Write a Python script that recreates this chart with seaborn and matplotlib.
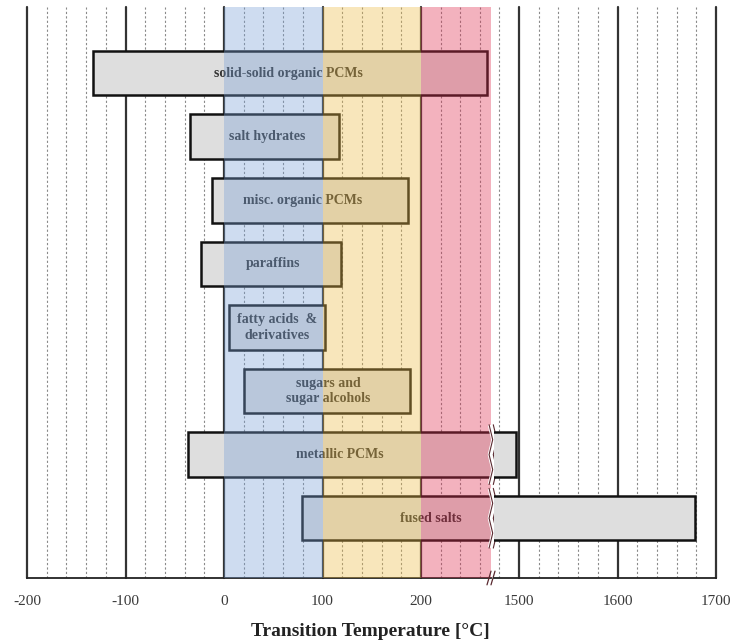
import numpy as np
import matplotlib
matplotlib.use("Agg")
import matplotlib.pyplot as plt
import matplotlib.transforms as mtransforms
import seaborn as sns

# PCM classes and their transition temperature ranges (deg C)
materials = ["solid-solid organic PCMs", "salt hydrates", "misc. organic PCMs",
             "paraffins", "fatty acids  &\nderivatives", "sugars and\nsugar alcohols",
             "metallic PCMs", "fused salts"]
t_min = [-133, -35, -12, -23, 5, 20, -37, 79]
t_max = [267, 117, 187, 119, 102, 189, 1497, 1679]
label_x = [65, 44, 80, 50, 54, 106, 118, 210]

# temperature bands (start, end, colour)
band_start = [0, 100, 200]
band_end = [100, 200, 275]
band_colors = ["#78a0d7", "#edbb43", "#de2a4d"]

sns.set_style("white")
plt.rcParams["font.family"] = ["Liberation Serif", "DejaVu Serif"]
plt.rcParams["axes.unicode_minus"] = False

W, H = 737, 644
fig = plt.figure(figsize=(W / 100, H / 100), dpi=100)

y0 = 1 - 578 / H
h = (578 - 7) / H
ax1 = fig.add_axes([27 / W, y0, (491 - 27) / W, h])
ax2 = fig.add_axes([494 / W, y0, (716 - 494) / W, h])

lims = [(-200, 271), (1474.6, 1700)]
majors = [[-200, -100, 0, 100, 200], [1500, 1600, 1700]]

ypos = np.arange(len(materials))
bar_h = 0.7

for ax, (lo, hi), maj in zip([ax1, ax2], lims, majors):
    # dashed minor grid every 20 degrees
    for x in np.arange(np.ceil(lo / 20) * 20, hi + 1, 20):
        if x not in maj:
            ax.axvline(x, color="#8a8a8a", lw=0.8, ls=(0, (2, 2)), zorder=1)
    for x in maj:
        ax.axvline(x, color="#333333", lw=1.6, zorder=1.2, clip_on=False)

    ax.barh(ypos, np.array(t_max) - np.array(t_min), left=t_min, height=bar_h,
            color="#dedede", edgecolor="#111111", linewidth=1.8, zorder=2)

    ax.set_xlim(lo, hi)
    ax.set_ylim(7.94, -1.04)
    ax.set_yticks([])
    ax.set_xticks(maj)
    ax.tick_params(axis="x", direction="out", length=3, width=1.2, pad=9,
                   labelsize=11, labelcolor="#3a3a3a", color="#222222")
    for s in ["top", "left", "right"]:
        ax.spines[s].set_visible(False)
    ax.spines["bottom"].set_color("#222222")
    ax.spines["bottom"].set_linewidth(1.3)
    ax.patch.set_alpha(0)

# coloured temperature bands on top of the bars
for b0, b1, c in zip(band_start, band_end, band_colors):
    ax1.axvspan(b0, b1, color=c, alpha=0.36, lw=0, zorder=3)

# labels
for i, name in enumerate(materials):
    ax1.text(label_x[i], ypos[i], name, ha="center", va="center",
             fontsize=10, fontweight="bold", color="#333333", zorder=2.5,
             linespacing=1.25)

# zigzag break marks on the bars that cross the break
trans = mtransforms.blended_transform_factory(fig.transFigure, ax1.transData)
bx = 491.5 / W
dx = 3 / W
for i in ypos:
    if t_max[i] > lims[0][1]:
        top = i - bar_h / 2 - 0.12
        bot = i + bar_h / 2 + 0.12
        ys = np.linspace(top, bot, 5)
        xs = bx + np.array([-1, 1, -1, 1, -1]) * dx * 0.6
        ax1.plot(xs + dx * 0.5, ys, color="white", lw=5, transform=trans,
                 clip_on=False, zorder=5, solid_capstyle="butt")
        for off in (-0.2, 1.2):
            ax1.plot(xs + dx * off, ys, color="#5a2a30", lw=0.8,
                     transform=trans, clip_on=False, zorder=6)

# axis break marks at the bottom
tb = mtransforms.blended_transform_factory(fig.transFigure, ax1.transAxes)
for off in (-2.5, 1.5):
    ax1.plot([bx + off / W - 2 / W, bx + off / W + 2 / W], [-0.012, 0.012],
             color="#5a2a30", lw=0.9, transform=tb, clip_on=False, zorder=6)

fig.text(370 / W, 1 - 632 / H, "Transition Temperature [°C]", ha="center",
         va="center", fontsize=14, fontweight="bold", color="#222222")

fig.savefig("out.png", dpi=100)
